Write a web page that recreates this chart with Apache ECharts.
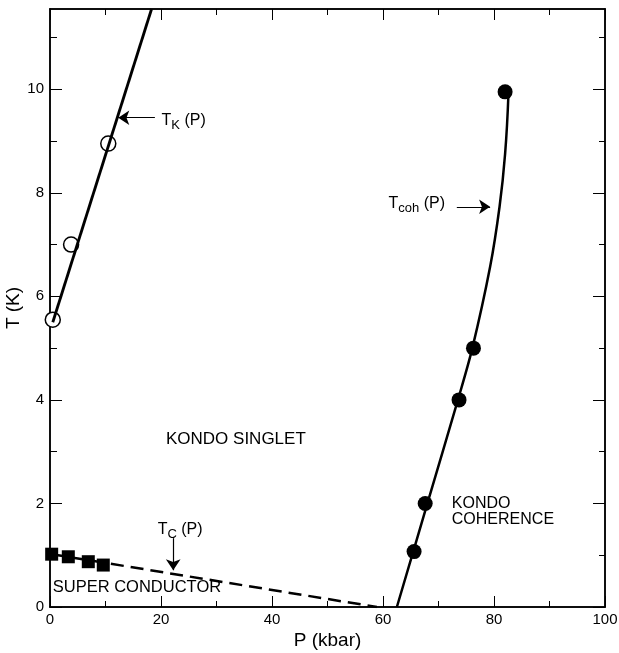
<!DOCTYPE html>
<html>
<head>
<meta charset="utf-8">
<title>Kondo phase diagram</title>
<style>
  html, body { margin: 0; padding: 0; background: #fff; }
  #chart { width: 619px; height: 653px; }
</style>
<script src="https://cdn.jsdelivr.net/npm/echarts@6.0.0/dist/echarts.min.js"></script>
</head>
<body>
<div id="chart"></div>
<script>
// P in kbar, T in K
const tkPoints = [[0.5, 5.55], [3.8, 7.0], [10.5, 8.95]];
const tkLine = [[0.5, 5.5], [18.3, 11.55]];
const tcPoints = [[0.3, 1.02], [3.3, 0.97], [6.9, 0.875], [9.6, 0.81]];
const tcLine = [[0.3, 1.02], [58.9, 0]];
const tcohPoints = [[65.6, 1.07], [67.6, 2.0], [73.7, 4.0], [76.3, 5.0], [82.0, 9.95]];
const tcohCurve = [[62.5, 0], [68.0, 2.0], [73.5, 4.0], [76.1, 5.0], [79.3, 6.57], [81.0, 7.73], [82.0, 8.75], [82.6, 9.9]];

const xMajorTicks = [0, 20, 40, 60, 80, 100];
const xMinorTicks = [10, 30, 50, 70, 90];
const yMajorTicks = [0, 2, 4, 6, 8, 10];
const yMinorTicks = [1, 3, 5, 7, 9, 11];
const pMax = 100;
const tMax = 11.55;

const ink = '#000';
const font = '"Liberation Sans", Arial, Helvetica, sans-serif';

const xAxis = (position, ticks, len, withLabels) => ({
  type: 'value',
  position,
  min: 0,
  max: pMax,
  axisLine: { show: true, onZero: false, lineStyle: { color: ink, width: 1.5 } },
  axisTick: { show: true, inside: true, length: len, customValues: ticks, lineStyle: { color: ink, width: 1 } },
  axisLabel: { show: withLabels, customValues: ticks, margin: 5, color: ink, fontFamily: font, fontSize: 15 },
  splitLine: { show: false },
});

const yAxis = (position, ticks, len, withLabels) => ({
  type: 'value',
  position,
  min: 0,
  max: tMax,
  axisLine: { show: true, onZero: false, lineStyle: { color: ink, width: 1.5 } },
  axisTick: { show: true, inside: true, length: len, customValues: ticks, lineStyle: { color: ink, width: 1 } },
  axisLabel: { show: withLabels, customValues: ticks, margin: 6, color: ink, fontFamily: font, fontSize: 15 },
  splitLine: { show: false },
});

const rich = {
  m: { fontSize: 16, fontFamily: font, color: ink },
  s: { fontSize: 13, fontFamily: font, color: ink, padding: [10, 0, 0, 0] },
};

const chart = echarts.init(document.getElementById('chart'));

const xs = [
  Object.assign(xAxis('bottom', xMajorTicks, 11, true), {
    name: 'P (kbar)', nameLocation: 'middle', nameGap: 24, nameMoveOverlap: false,
    nameTextStyle: { color: ink, fontFamily: font, fontSize: 19 },
  }),
  xAxis('bottom', xMinorTicks, 6, false),
  xAxis('top', xMajorTicks, 11, false),
  xAxis('top', xMinorTicks, 6, false),
];
const ys = [
  Object.assign(yAxis('left', yMajorTicks, 12, true), {
    name: 'T (K)', nameLocation: 'middle', nameGap: 27, nameMoveOverlap: false,
    nameTextStyle: { color: ink, fontFamily: font, fontSize: 19 },
  }),
  yAxis('left', yMinorTicks, 7, false),
  yAxis('right', yMajorTicks, 12, false),
  yAxis('right', yMinorTicks, 6, false),
];

chart.setOption({
  animation: false,
  backgroundColor: '#fff',
  grid: { left: 50, right: 14, top: 9, bottom: 46, outerBoundsMode: 'none', containLabel: false },
  xAxis: xs,
  yAxis: ys,
  series: [
    {
      name: 'TK line', type: 'line', data: tkLine, symbol: 'none', silent: true,
      lineStyle: { color: ink, width: 2.8 },
    },
    {
      name: 'TK', type: 'scatter', data: tkPoints, symbol: 'circle', symbolSize: 15, silent: true,
      itemStyle: { color: '#fff', borderColor: ink, borderWidth: 1.5, opacity: 1 },
    },
    {
      name: 'Tc line', type: 'line', data: tcLine, symbol: 'none', silent: true,
      lineStyle: { color: ink, width: 2.5, type: [13, 7] },
    },
    {
      name: 'Tc', type: 'scatter', data: tcPoints, symbol: 'rect', symbolSize: 13, silent: true,
      itemStyle: { color: ink, opacity: 1 },
    },
    {
      name: 'Tcoh line', type: 'line', data: tcohCurve, symbol: 'none', smooth: 0.3, silent: true,
      lineStyle: { color: ink, width: 2.5 },
    },
    {
      name: 'Tcoh', type: 'scatter', data: tcohPoints, symbol: 'circle', symbolSize: 15, silent: true,
      itemStyle: { color: ink, opacity: 1 },
    },
    {
      name: 'notes', type: 'scatter', symbolSize: 0, silent: true,
      itemStyle: { opacity: 1 },
      label: { show: true, position: 'right', distance: 0, color: ink, fontFamily: font, fontSize: 16, rich },
      data: [
        { value: [20.9, 3.23], label: { formatter: 'KONDO SINGLET', fontSize: 17 } },
        { value: [0.5, 0.38], label: { formatter: 'SUPER CONDUCTOR', fontSize: 16.5 } },
        { value: [72.4, 1.85], label: { formatter: 'KONDO\nCOHERENCE', lineHeight: 16 } },
        { value: [20.1, 9.4], label: { formatter: '{m|T}{s|K}{m| (P)}' } },
        { value: [19.4, 1.5], label: { formatter: '{m|T}{s|C}{m| (P)}' } },
        { value: [61.0, 7.8], label: { formatter: '{m|T}{s|coh}{m| (P)}' } },
      ],
      markLine: {
        silent: true,
        symbol: ['none', 'arrow'],
        symbolSize: 11,
        label: { show: false },
        lineStyle: { color: ink, width: 1.2, type: 'solid', opacity: 1 },
        data: [
          [{ coord: [18.9, 9.45] }, { coord: [12.3, 9.45] }],
          [{ coord: [22.2, 1.33] }, { coord: [22.2, 0.71] }],
          [{ coord: [73.3, 7.73] }, { coord: [79.3, 7.73] }],
        ],
      },
    },
  ],
});
</script>
</body>
</html>
